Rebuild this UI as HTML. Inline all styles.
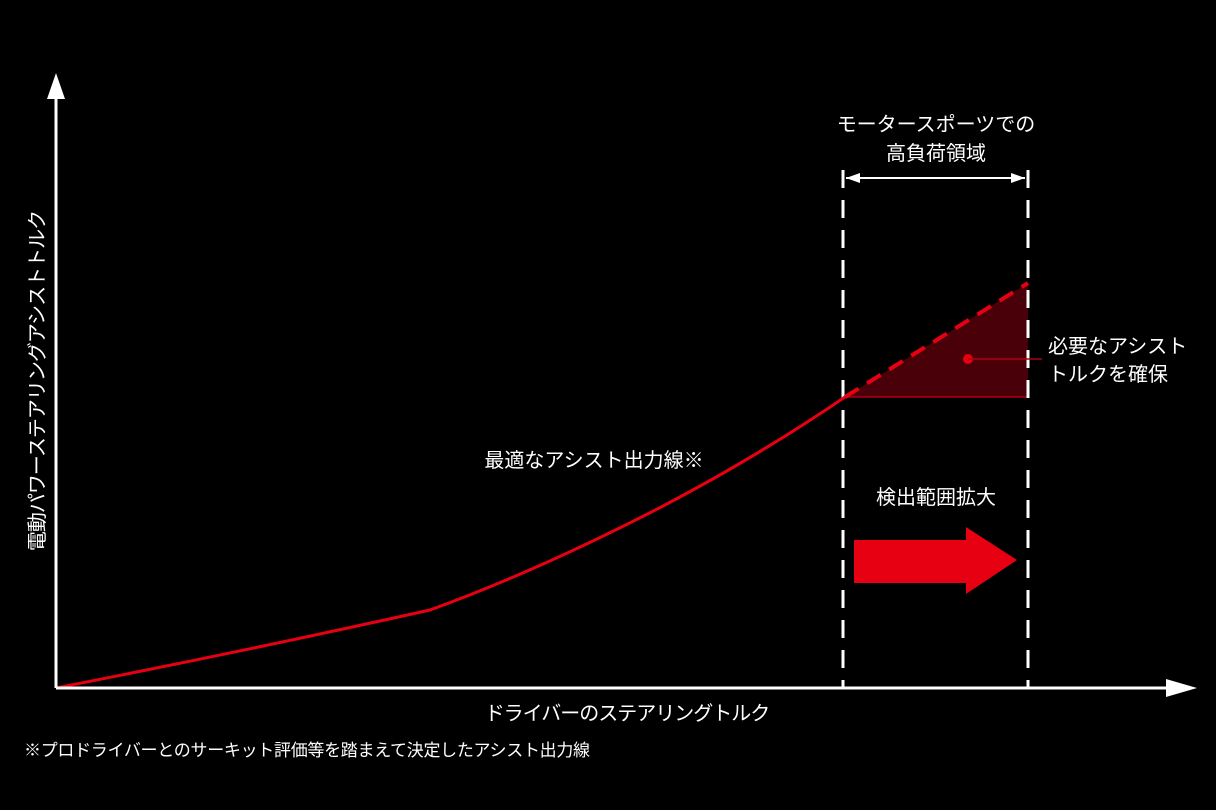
<!DOCTYPE html>
<html><head><meta charset="utf-8"><style>
html,body{margin:0;padding:0;background:#000;}
svg{display:block;}
text{font-family:"Liberation Sans","Noto Sans CJK JP",sans-serif;fill:#fff;}
</style></head><body>
<svg width="1216" height="810" viewBox="0 0 1216 810">
<rect width="1216" height="810" fill="#000"/>
<polygon points="845,397 1028,283 1028,397" fill="#4a0008"/>
<line x1="845" y1="397" x2="1028" y2="397" stroke="#b00010" stroke-width="1.5"/>
<line x1="843" y1="170" x2="843" y2="688" stroke="#fff" stroke-width="3" stroke-dasharray="18,12"/>
<line x1="1028" y1="170" x2="1028" y2="688" stroke="#fff" stroke-width="3" stroke-dasharray="18,12"/>
<line x1="846" y1="178" x2="1025" y2="178" stroke="#fff" stroke-width="2"/>
<polygon points="846,178 860,173 860,183" fill="#fff"/>
<polygon points="1025,178 1011,173 1011,183" fill="#fff"/>
<path d="M56,688 Q250,650 430,610 Q540,570 665,505 Q760,455 845,397" fill="none" stroke="#e60012" stroke-width="3"/>
<line x1="845" y1="397" x2="1028" y2="283" stroke="#e60012" stroke-width="4" stroke-dasharray="16,10"/>
<line x1="56" y1="97" x2="56" y2="688" stroke="#fff" stroke-width="3"/>
<polygon points="56,73 47,99 65,99" fill="#fff"/>
<line x1="56" y1="688" x2="1170" y2="688" stroke="#fff" stroke-width="3"/>
<polygon points="1197,688 1166,679 1166,697" fill="#fff"/>
<circle cx="968" cy="359" r="5" fill="#e60012"/>
<line x1="968" y1="359" x2="1042" y2="359" stroke="#b00010" stroke-width="1.5"/>
<polygon points="854,540 966,540 966,527 1017,560 966,594 966,583 854,583" fill="#e60012"/>
<text x="936" y="131" font-size="20" text-anchor="middle">モータースポーツでの</text>
<text x="936" y="160" font-size="20" text-anchor="middle">高負荷領域</text>
<text x="1048" y="353" font-size="20">必要なアシスト</text>
<text x="1048" y="381" font-size="20">トルクを確保</text>
<text x="936" y="504" font-size="20" text-anchor="middle">検出範囲拡大</text>
<text x="594" y="467" font-size="20" text-anchor="middle">最適なアシスト出力線※</text>
<text x="627" y="720" font-size="20" text-anchor="middle" letter-spacing="-1">ドライバーのステアリングトルク</text>
<text x="24" y="756" font-size="17" letter-spacing="-0.3">※プロドライバーとのサーキット評価等を踏まえて決定したアシスト出力線</text>
<text transform="translate(44,381) rotate(-90)" font-size="20" text-anchor="middle" letter-spacing="-1">電動パワーステアリングアシストトルク</text>
</svg>
</body></html>
